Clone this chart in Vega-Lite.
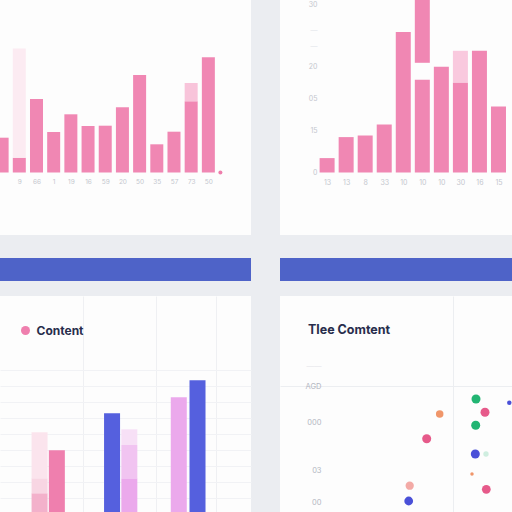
{
  "$schema": "https://vega.github.io/schema/vega-lite/v6.json",
  "background": "#ebedf1",
  "padding": 0,
  "spacing": 23,
  "resolve": {"scale": {"color": "independent", "size": "independent"}},
  "config": {
    "view": {"fill": "#fdfdfd", "stroke": null},
    "axis": {
      "domain": false,
      "ticks": false,
      "grid": false,
      "title": null,
      "labelFont": "Inter",
      "labelFontSize": 7,
      "labelColor": "#c4c7ce"
    }
  },
  "vconcat": [
    {
      "hconcat": [
        {
          "width": 251,
          "height": 235,
          "resolve": {"axis": {"x": "independent", "y": "independent"}},
          "layer": [
            {
              "data": {
                "values": [
                  {"i": 0, "lo": 0, "hi": 34.8, "tone": "main"},
                  {"i": 1, "lo": 0, "hi": 14.8, "tone": "main"},
                  {"i": 1, "lo": 14.8, "hi": 124, "tone": "ghost"},
                  {"i": 2, "lo": 0, "hi": 73.5, "tone": "main"},
                  {"i": 3, "lo": 0, "hi": 40.5, "tone": "main"},
                  {"i": 4, "lo": 0, "hi": 58.2, "tone": "main"},
                  {"i": 5, "lo": 0, "hi": 46.5, "tone": "main"},
                  {"i": 6, "lo": 0, "hi": 46.8, "tone": "main"},
                  {"i": 7, "lo": 0, "hi": 65.2, "tone": "main"},
                  {"i": 8, "lo": 0, "hi": 97.5, "tone": "main"},
                  {"i": 9, "lo": 0, "hi": 28.2, "tone": "main"},
                  {"i": 10, "lo": 0, "hi": 40.8, "tone": "main"},
                  {"i": 11, "lo": 0, "hi": 71.2, "tone": "main"},
                  {"i": 11, "lo": 71.2, "hi": 89.5, "tone": "faded"},
                  {"i": 12, "lo": 0, "hi": 115.2, "tone": "main"}
                ]
              },
              "mark": {"type": "bar", "width": 13, "clip": true},
              "encoding": {
                "x": {
                  "field": "i",
                  "type": "quantitative",
                  "scale": {"domain": [0.1676, 14.19], "nice": false, "zero": false},
                  "axis": {
                    "orient": "bottom",
                    "offset": -62.5,
                    "labelPadding": 6,
                    "labelOverlap": false,
                    "labelFontSize": 6.5,
                    "values": [1, 2, 3, 4, 5, 6, 7, 8, 9, 10, 11, 12],
                    "labelExpr": "['','9','66','1','19','16','59','20','50','35','57','73','50'][datum.value]"
                  }
                },
                "y": {
                  "field": "hi",
                  "type": "quantitative",
                  "scale": {"domain": [-62.5, 172.5], "nice": false, "zero": false},
                  "axis": null
                },
                "y2": {"field": "lo"},
                "color": {
                  "field": "tone",
                  "type": "nominal",
                  "scale": {"domain": ["main", "faded", "ghost"], "range": ["#f087b3", "#f8c4da", "#fcebf2"]},
                  "legend": null
                }
              }
            },
            {
              "data": {"values": [{"i": 12.7, "hi": 0}]},
              "mark": {"type": "circle", "size": 16, "opacity": 1, "color": "#ee7eac"},
              "encoding": {
                "x": {"field": "i", "type": "quantitative", "axis": null},
                "y": {"field": "hi", "type": "quantitative", "axis": null}
              }
            }
          ]
        },
        {
          "width": 232,
          "height": 235,
          "data": {
            "values": [
              {"i": 1, "lo": 0, "hi": 14.4, "tone": "main"},
              {"i": 2, "lo": 0, "hi": 35.4, "tone": "main"},
              {"i": 3, "lo": 0, "hi": 37, "tone": "main"},
              {"i": 4, "lo": 0, "hi": 48, "tone": "main"},
              {"i": 5, "lo": 0, "hi": 140.4, "tone": "main"},
              {"i": 6, "lo": 0, "hi": 92.7, "tone": "main"},
              {"i": 6, "lo": 109.7, "hi": 172.5, "tone": "main"},
              {"i": 7, "lo": 0, "hi": 105.7, "tone": "main"},
              {"i": 8, "lo": 0, "hi": 90, "tone": "main"},
              {"i": 8, "lo": 90, "hi": 121.7, "tone": "faded"},
              {"i": 9, "lo": 0, "hi": 121.7, "tone": "main"},
              {"i": 10, "lo": 0, "hi": 66, "tone": "main"}
            ]
          },
          "mark": {"type": "bar", "width": 15, "clip": true},
          "encoding": {
            "x": {
              "field": "i",
              "type": "quantitative",
              "scale": {"domain": [-1.211, 10.447], "nice": false, "zero": false},
              "axis": {
                "orient": "bottom",
                "offset": -62.5,
                "labelPadding": 6,
                "labelOverlap": false,
                "values": [1, 2, 3, 4, 5, 6, 7, 8, 9, 10],
                "labelExpr": "['','13','13','8','33','10','10','10','30','16','15'][datum.value]"
              }
            },
            "y": {
              "field": "hi",
              "type": "quantitative",
              "scale": {"domain": [-62.5, 172.5], "nice": false, "zero": false},
              "axis": {
                "orient": "left",
                "offset": -40,
                "labelPadding": 3,
                "labelOverlap": false,
                "values": [0, 41.7, 73.7, 106, 126, 141.7, 168],
                "labelExpr": "datum.value < 1 ? '0' : datum.value < 50 ? '15' : datum.value < 80 ? '05' : datum.value < 110 ? '20' : datum.value < 160 ? '—' : '30'",
                "labelColor": {"condition": {"test": "datum.value > 120 && datum.value < 160", "value": "#e3e5ea"}, "value": "#c4c7ce"}
              }
            },
            "y2": {"field": "lo"},
            "color": {
              "field": "tone",
              "type": "nominal",
              "scale": {"domain": ["main", "faded"], "range": ["#f087b3", "#f9c9de"]},
              "legend": null
            }
          }
        }
      ],
      "spacing": 29,
      "resolve": {"scale": {"color": "independent"}}
    },
    {
      "vconcat": [
        {
          "hconcat": [
            {
              "width": 251,
              "height": 23,
              "data": {"values": [{"a": 0, "b": 1}]},
              "mark": {"type": "rect", "color": "#4e63c8"},
              "encoding": {
                "x": {"field": "a", "type": "quantitative", "scale": {"domain": [0, 1], "nice": false}, "axis": null},
                "x2": {"field": "b"}
              }
            },
            {
              "width": 232,
              "height": 23,
              "data": {"values": [{"a": 0, "b": 1}]},
              "mark": {"type": "rect", "color": "#4e63c8"},
              "encoding": {
                "x": {"field": "a", "type": "quantitative", "scale": {"domain": [0, 1], "nice": false}, "axis": null},
                "x2": {"field": "b"}
              }
            }
          ],
          "spacing": 29
        },
        {
          "hconcat": [
            {
              "width": 251,
              "height": 216,
              "data": {
                "values": [
                  {"x": 36, "lo": 0, "hi": 18.7, "tone": "rose"},
                  {"x": 36, "lo": 18.7, "hi": 33.7, "tone": "blush"},
                  {"x": 36, "lo": 33.7, "hi": 79.7, "tone": "shell"},
                  {"x": 54, "lo": 0, "hi": 61.7, "tone": "Content"},
                  {"x": 111.5, "lo": 0, "hi": 98.7, "tone": "indigo"},
                  {"x": 129.5, "lo": 0, "hi": 33.7, "tone": "lilac"},
                  {"x": 129.5, "lo": 33.7, "hi": 67, "tone": "mauve"},
                  {"x": 129.5, "lo": 67, "hi": 82.7, "tone": "mist"},
                  {"x": 181, "lo": 0, "hi": 114.7, "tone": "lilac"},
                  {"x": 200.5, "lo": 0, "hi": 131.7, "tone": "indigo"}
                ]
              },
              "mark": {"type": "bar", "width": 16, "clip": true},
              "encoding": {
                "x": {
                  "field": "x",
                  "type": "quantitative",
                  "scale": {"domain": [0, 251], "nice": false, "zero": false},
                  "axis": {"labels": false, "grid": true, "gridColor": "#eff0f3", "values": [81, 157, 220]}
                },
                "y": {
                  "field": "hi",
                  "type": "quantitative",
                  "scale": {"domain": [0, 216], "nice": false},
                  "axis": {"labels": false, "grid": true, "gridColor": "#f1f2f5", "values": [14, 30, 46, 62, 78, 94, 110, 126, 142]}
                },
                "y2": {"field": "lo"},
                "color": {
                  "field": "tone",
                  "type": "nominal",
                  "scale": {
                    "domain": ["Content", "indigo", "lilac", "rose", "blush", "shell", "mauve", "mist"],
                    "range": ["#ef7fae", "#5560de", "#eba9ec", "#f3b1cb", "#f8d6e3", "#fbe4ed", "#f1c4f1", "#f7e0f6"]
                  },
                  "legend": {
                    "values": ["Content"],
                    "orient": "none",
                    "legendX": 19.5,
                    "legendY": 28.5,
                    "title": null,
                    "symbolType": "circle",
                    "symbolSize": 81,
                    "labelOffset": 5,
                    "labelFont": "Inter",
                    "labelFontSize": 12,
                    "labelFontWeight": 700,
                    "labelColor": "#282d4c"
                  }
                }
              }
            },
            {
              "width": 232,
              "height": 216,
              "title": {
                "text": "Tlee Comtent",
                "anchor": "start",
                "frame": "group",
                "offset": -46,
                "dx": 28,
                "baseline": "middle",
                "font": "Inter",
                "fontSize": 12.5,
                "fontWeight": 700,
                "color": "#282d4c"
              },
              "data": {
                "values": [
                  {"x": 196, "y": 113, "kind": "green", "v": 1},
                  {"x": 229.3, "y": 109.3, "kind": "blue", "v": 0.25},
                  {"x": 205, "y": 99.7, "kind": "pink", "v": 1},
                  {"x": 159.7, "y": 98, "kind": "orange", "v": 0.7},
                  {"x": 195.7, "y": 86.7, "kind": "green", "v": 1},
                  {"x": 146.7, "y": 73.3, "kind": "pink", "v": 1},
                  {"x": 195.3, "y": 58, "kind": "blue", "v": 1},
                  {"x": 206, "y": 58, "kind": "paleGreen", "v": 0.35},
                  {"x": 192, "y": 38, "kind": "orange", "v": 0.15},
                  {"x": 129.7, "y": 26.3, "kind": "salmon", "v": 0.85},
                  {"x": 206.3, "y": 22.7, "kind": "pink", "v": 0.95},
                  {"x": 128.7, "y": 11, "kind": "blue", "v": 0.95}
                ]
              },
              "mark": {"type": "circle", "opacity": 1},
              "encoding": {
                "x": {
                  "field": "x",
                  "type": "quantitative",
                  "scale": {"domain": [0, 232], "nice": false, "zero": false},
                  "axis": {"labels": false, "grid": true, "gridColor": "#eceef1", "values": [173.3]}
                },
                "y": {
                  "field": "y",
                  "type": "quantitative",
                  "scale": {"domain": [0, 216], "nice": false},
                  "axis": {
                    "orient": "left",
                    "offset": -44,
                    "labelPadding": 3,
                    "labelOverlap": false,
                    "labelFontSize": 7.5,
                    "values": [9.3, 41.3, 89.7, 126, 146],
                    "labelExpr": "datum.value > 140 ? '——' : datum.value > 120 ? 'AGD' : datum.value > 80 ? '000' : datum.value > 30 ? '03' : '00'",
                    "labelColor": {"condition": {"test": "datum.value > 140", "value": "#e6e7eb"}, "value": "#b3b7c2"},
                    "grid": true,
                    "gridColor": "#eceef1",
                    "gridOpacity": {"condition": {"test": "datum.value > 120 && datum.value < 140", "value": 1}, "value": 0}
                  }
                },
                "color": {
                  "field": "kind",
                  "type": "nominal",
                  "scale": {
                    "domain": ["green", "pink", "blue", "orange", "salmon", "paleGreen"],
                    "range": ["#22b573", "#e65a8a", "#4a50d8", "#f0966a", "#f3aaa6", "#cfeee0"]
                  },
                  "legend": null
                },
                "size": {
                  "field": "v",
                  "type": "quantitative",
                  "scale": {"domain": [0, 1], "range": [0, 81]},
                  "legend": null
                }
              }
            }
          ],
          "spacing": 29,
          "resolve": {"scale": {"color": "independent", "size": "independent"}}
        }
      ],
      "spacing": 15,
      "resolve": {"scale": {"color": "independent", "size": "independent"}}
    }
  ]
}
